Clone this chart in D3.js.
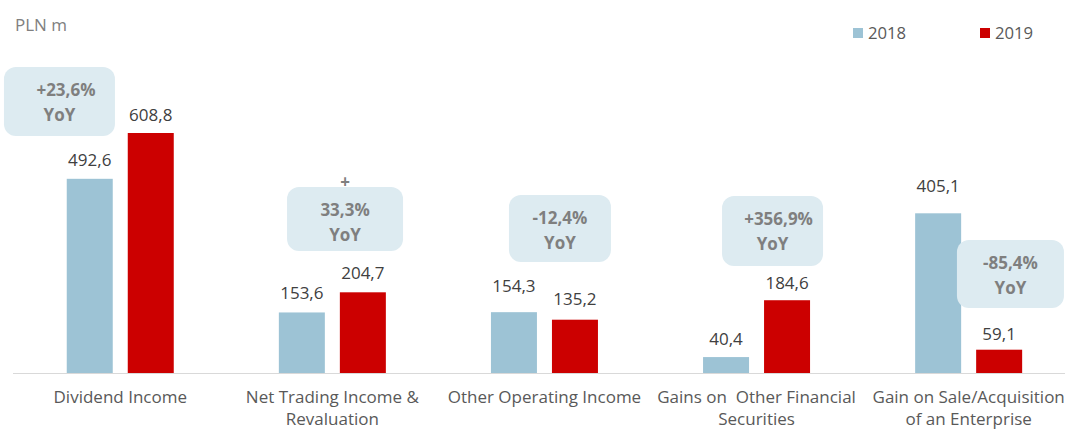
<!DOCTYPE html>
<html>
<head>
<meta charset="utf-8">
<script src="https://cdn.jsdelivr.net/npm/d3@7/dist/d3.min.js"></script>
<style>
  html, body { margin: 0; padding: 0; background: #ffffff; }
  svg { display: block; font-family: "Open Sans", "Noto Sans", sans-serif; }
</style>
</head>
<body>
<svg id="chart" width="1065" height="429"></svg>
<script>
// Income components, PLN m
const categories = [
  "Dividend Income",
  "Net Trading Income & Revaluation",
  "Other Operating Income",
  "Gains on  Other Financial Securities",
  "Gain on Sale/Acquisition of an Enterprise"
];
const categoryLines = [
  ["Dividend Income"],
  ["Net Trading Income &", "Revaluation"],
  ["Other Operating Income"],
  ["Gains on  Other Financial", "Securities"],
  ["Gain on Sale/Acquisition", "of an Enterprise"]
];
const years = ["2018", "2019"];
const values2018 = [492.6, 153.6, 154.3, 40.4, 405.1];
const values2019 = [608.8, 204.7, 135.2, 184.6, 59.1];
const yoyChange = ["+23,6%", "+33,3%", "-12,4%", "+356,9%", "-85,4%"];

// Layout of the annotation call-outs (offset from category centre, box extent)
const calloutLayout = [
  { dx: -60.8, w: 111, top: 67,  bottom: 136, textDx: 6.5, split: false },
  { dx: 12.7,  w: 116, top: 187, bottom: 251, textDx: 0,   split: true  },
  { dx: 15.5,  w: 102, top: 195, bottom: 262, textDx: 0,   split: false },
  { dx: 16,    w: 101, top: 196, bottom: 266, textDx: 6,   split: false },
  { dx: 41.8,  w: 107, top: 240, bottom: 308, textDx: 0,   split: false }
];
// Distance between value labels and bar tops
const labelLift = { "2018": [13, 13, 20, 12, 21], "2019": [12, 13, 15, 11, 10] };

const colors = { "2018": "#9dc3d5", "2019": "#cc0000" };
const fmt = v => d3.format(".1f")(v).replace(".", ",");

const rows = categories.map((c, i) => ({
  category: c,
  idx: i,
  series: [
    { year: "2018", value: values2018[i] },
    { year: "2019", value: values2019[i] }
  ]
}));

const svg = d3.select("#chart");

const baseY = 373;
const x0 = d3.scaleBand()
  .domain(categories)
  .range([14.2, 1074.7])
  .paddingInner(0.4955)
  .paddingOuter(0.4955 / 2);
const x1 = d3.scaleBand()
  .domain(years)
  .range([0, x0.bandwidth()])
  .paddingInner(0.246);
const y = d3.scaleLinear()
  .domain([0, 700])
  .range([baseY, baseY - 700 * (240 / 608.8)]);

// Unit caption
svg.append("text")
  .attr("x", 15).attr("y", 31)
  .attr("font-size", 17)
  .attr("fill", "#808080")
  .text("PLN m");

// Legend
const legend = svg.append("g");
const legendX = { "2018": 853, "2019": 980 };
years.forEach(yr => {
  legend.append("rect")
    .attr("x", legendX[yr]).attr("y", 28)
    .attr("width", 10).attr("height", 10)
    .attr("fill", colors[yr]);
  legend.append("text")
    .attr("x", legendX[yr] + 15).attr("y", 39)
    .attr("font-size", 16.7)
    .attr("fill", "#595959")
    .text(yr);
});

// Bars
const groups = svg.append("g").selectAll("g")
  .data(rows)
  .join("g")
  .attr("transform", d => `translate(${x0(d.category)},0)`);

groups.selectAll("rect")
  .data(d => d.series)
  .join("rect")
  .attr("x", d => x1(d.year))
  .attr("y", d => y(d.value))
  .attr("width", x1.bandwidth())
  .attr("height", d => y(0) - y(d.value))
  .attr("fill", d => colors[d.year]);

// Value labels
groups.selectAll("text.val")
  .data(d => d.series.map(s => ({ ...s, idx: d.idx })))
  .join("text")
  .attr("class", "val")
  .attr("x", d => x1(d.year) + x1.bandwidth() / 2)
  .attr("y", d => y(d.value) - labelLift[d.year][d.idx])
  .attr("text-anchor", "middle")
  .attr("font-size", 17)
  .attr("fill", "#404040")
  .text(d => fmt(d.value));

// Category axis
const axis = svg.append("g")
  .attr("transform", `translate(0,${baseY})`)
  .call(d3.axisBottom(x0).tickSize(0).tickSizeOuter(0).tickPadding(0));
axis.select(".domain")
  .attr("stroke", "#d9d9d9")
  .attr("stroke-width", 1.2)
  .attr("d", "M13,0.5H1065");
axis.selectAll(".tick text").each(function(d) {
  const t = d3.select(this);
  const lines = categoryLines[categories.indexOf(d)];
  t.text(null)
    .attr("y", 0)
    .attr("dy", null)
    .attr("font-family", "Open Sans, Noto Sans, sans-serif")
    .attr("font-size", 17)
    .attr("fill", "#595959")
    .style("white-space", "pre");
  lines.forEach((ln, k) => {
    t.append("tspan")
      .attr("x", 0)
      .attr("y", 30 + k * 21.5)
      .text(ln);
  });
});

// YoY call-outs
const callouts = svg.append("g").selectAll("g")
  .data(rows)
  .join("g");

callouts.each(function(d) {
  const g = d3.select(this);
  const lay = calloutLayout[d.idx];
  const cx = x0(d.category) + x0.bandwidth() / 2 + lay.dx;
  g.append("rect")
    .attr("x", cx - lay.w / 2)
    .attr("y", lay.top)
    .attr("width", lay.w)
    .attr("height", lay.bottom - lay.top)
    .attr("rx", 12).attr("ry", 12)
    .attr("fill", "#ddebf1");
  const txt = yoyChange[d.idx];
  const style = s => s
    .attr("text-anchor", "middle")
    .attr("font-size", 17)
    .attr("font-weight", "bold")
    .attr("fill", "#7f7f7f");
  if (lay.split) {
    g.append("text").call(style)
      .attr("x", cx + lay.textDx).attr("y", lay.top + 1)
      .text(txt.slice(0, 1));
    g.append("text").call(style)
      .attr("x", cx + lay.textDx).attr("y", lay.top + 29)
      .text(txt.slice(1));
  } else {
    g.append("text").call(style)
      .attr("x", cx + lay.textDx).attr("y", lay.top + 29)
      .text(txt);
  }
  g.append("text").call(style)
    .attr("x", cx).attr("y", lay.top + 54)
    .text("YoY");
});
</script>
</body>
</html>
